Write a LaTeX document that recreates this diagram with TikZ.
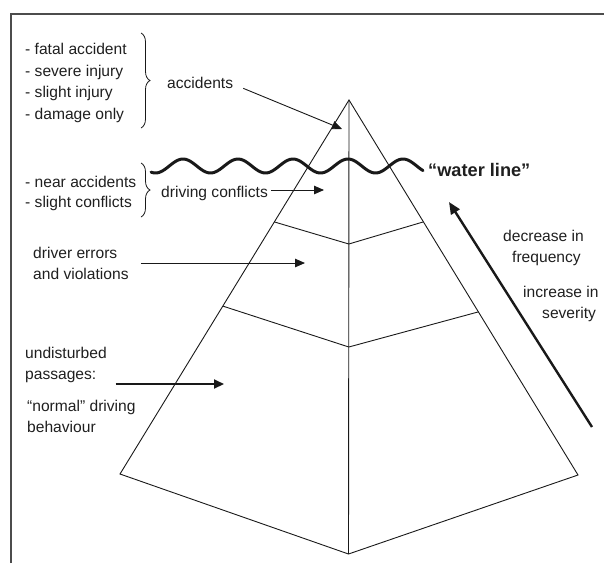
\documentclass[tikz,border=0pt]{standalone}
\usepackage{fontspec}
\setmainfont{Liberation Sans}
\usetikzlibrary{arrows.meta,decorations.pathreplacing,calc}

\begin{document}
\begin{tikzpicture}[x=1pt,y=-1pt,
  lbl/.style={font=\fontsize{15.6}{19}\selectfont, inner sep=0pt, anchor=base west, text=black!88},
  frameline/.style={line width=1.5pt, draw=black!70},
  edge/.style={line width=0.9pt, draw=black!90},
  ptr/.style={line width=0.9pt, draw=black!90, -{Triangle[length=10pt,width=8.5pt]}},
  boldptr/.style={line width=2pt, draw=black!90, -{Triangle[length=10pt,width=9pt]}},
  bigptr/.style={line width=2.4pt, draw=black!90, -{Triangle[length=12pt,width=10pt]}},
  waterline/.style={line width=3pt, draw=black!90, line cap=round},
  bracket/.style={line width=0.8pt, draw=black!90, decorate, decoration={brace, amplitude=9pt}}
]
\useasboundingbox (0,0) rectangle (604,563);

% cropped frame: top and left sides only
\draw[frameline] (11,563) -- (11,14) -- (604,14);

% pyramid corners and layer boundaries
\coordinate (apex) at (349,100);
\coordinate (bl) at (120,474);
\coordinate (br) at (578,475);
\coordinate (bot) at (348.5,554);
\coordinate (l1L) at ($(apex)!0.326!(bl)$);
\coordinate (l1C) at (348.8,244);
\coordinate (l1R) at ($(apex)!0.325!(br)$);
\coordinate (l2L) at ($(apex)!0.551!(bl)$);
\coordinate (l2C) at (348.8,347);
\coordinate (l2R) at ($(apex)!0.565!(br)$);

\draw[edge, line join=miter] (bl) -- (apex) -- (br) -- (bot) -- cycle;
\draw[edge] (apex) -- (bot);
\draw[edge] (l1L) -- (l1C) -- (l1R);
\draw[edge] (l2L) -- (l2C) -- (l2R);

% water line
\draw[waterline] plot[domain=151:423, samples=140, smooth] (\x, {166 - 7*cos((\x-348)*6.5455)});
\node[lbl, font=\fontsize{18.2}{22}\selectfont\bfseries] (wl) at (428,176) {“water line”};

% accident types
\node[lbl] (t1) at (25,54) {- fatal accident};
\node[lbl] (t2) at (25,76) {- severe injury};
\node[lbl] (t3) at (25,97.5) {- slight injury};
\node[lbl] (t4) at (25,119) {- damage only};
\draw[bracket] (141,33) -- (141,128);
\node[lbl] (acc) at (167,88) {accidents};

% conflict types
\node[lbl] (c1) at (25,187) {- near accidents};
\node[lbl] (c2) at (25,207.5) {- slight conflicts};
\draw[bracket] (141,163) -- (141,217);
\node[lbl] (dc) at (161,197) {driving conflicts};

% errors
\node[lbl] (e1) at (33,258) {driver errors};
\node[lbl] (e2) at (33,279) {and violations};

% normal behaviour
\node[lbl] (u1) at (25,358) {undisturbed};
\node[lbl] (u2) at (25,379) {passages:};
\node[lbl] (u3) at (27,411) {“normal” driving};
\node[lbl] (u4) at (27,432) {behaviour};

% frequency / severity
\node[lbl] (f1) at (503,241) {decrease in};
\node[lbl] (f2) at (512,262) {frequency};
\node[lbl] (s1) at (523,297) {increase in};
\node[lbl] (s2) at (542,318) {severity};

% pointers into the pyramid
\coordinate (accTip) at (342,129);
\coordinate (dcTip) at (324,190);
\coordinate (erTip) at (305,263);
\coordinate (unTip) at (224,384);
\coordinate (bigTail) at (592,427);
\coordinate (bigTip) at (449,202);

\draw[ptr] ([xshift=10pt]acc.south east) -- (accTip);
\draw[ptr] (dc.east |- dcTip) ++(3,0) -- (dcTip);
\draw[ptr] (e2.east |- erTip) ++(12,0) -- (erTip);
\draw[boldptr] (u2.east |- unTip) ++(19,0) -- (unTip);
\draw[bigptr] (bigTail) -- (bigTip);
\end{tikzpicture}
\end{document}
